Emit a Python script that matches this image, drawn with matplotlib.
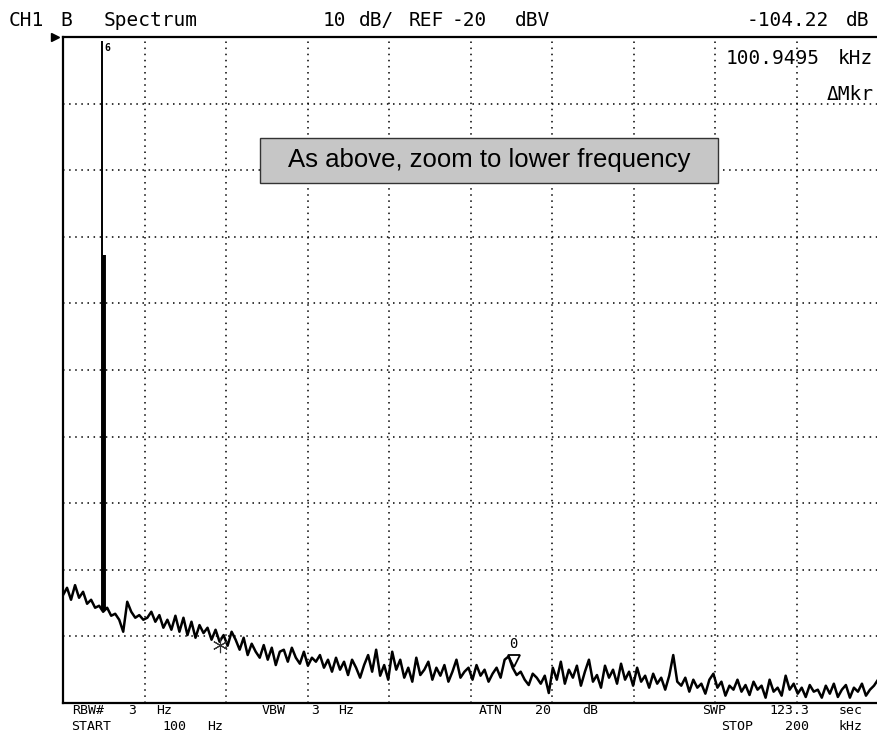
import numpy as np
import matplotlib
matplotlib.use("Agg")
import matplotlib.pyplot as plt
from matplotlib.patches import Rectangle
from matplotlib.transforms import blended_transform_factory

# analyser settings, as shown on screen
START_KHZ = 0.1
STOP_KHZ = 200.0
REF_DBV = -20.0
DB_PER_DIV = 10.0

# noise trace (dBV), bins evenly spaced START..STOP
trace_dbv = [
    -103.8, -102.7, -104.5, -102.3, -104.2, -103.3, -105.1, -104.5, -105.7, -105.4,
    -106.3, -105.7, -106.9, -106.6, -107.5, -109.3, -104.8, -106.3, -107.2, -106.8,
    -107.5, -107.2, -106.3, -107.8, -106.8, -108.7, -107.5, -109.0, -106.9, -109.3,
    -107.2, -109.8, -107.8, -110.2, -108.3, -109.5, -108.7, -110.5, -109.0, -110.8,
    -109.8, -111.4, -109.3, -110.5, -112.0, -110.2, -112.8, -111.1, -112.3, -113.2,
    -111.3, -113.5, -111.7, -114.3, -112.3, -112.0, -113.8, -111.7, -113.2, -114.1,
    -112.3, -114.4, -113.2, -113.8, -112.8, -114.7, -113.5, -115.3, -113.2, -115.0,
    -113.8, -115.8, -113.5, -114.7, -116.2, -114.3, -112.8, -115.3, -112.0, -115.9,
    -114.3, -116.5, -112.3, -115.0, -113.5, -116.2, -114.7, -116.8, -113.2, -115.8,
    -115.0, -113.8, -116.5, -114.7, -115.9, -114.3, -116.8, -115.3, -113.5, -116.2,
    -115.3, -114.7, -116.5, -114.3, -115.9, -115.0, -116.8, -115.6, -114.7, -116.2,
    -113.5, -113.0, -114.7, -115.8, -115.3, -116.5, -117.3, -115.6, -116.2, -117.1,
    -115.9, -118.5, -114.7, -116.5, -113.8, -117.1, -115.0, -116.2, -114.4, -117.4,
    -115.3, -113.5, -116.8, -115.8, -117.7, -114.4, -116.2, -115.0, -117.1, -114.1,
    -116.5, -115.3, -117.4, -114.7, -116.8, -115.9, -117.7, -115.6, -117.1, -116.2,
    -118.0, -115.9, -112.8, -116.8, -117.4, -116.2, -118.3, -116.5, -117.7, -117.1,
    -118.6, -116.5, -115.6, -117.7, -116.8, -118.9, -117.4, -118.0, -116.5, -118.3,
    -117.3, -118.8, -116.8, -118.0, -117.4, -119.2, -116.5, -118.3, -117.7, -118.9,
    -115.9, -118.0, -117.1, -118.6, -117.7, -119.1, -117.3, -118.3, -118.0, -119.2,
    -117.4, -118.6, -117.1, -119.1, -118.0, -117.3, -119.2, -117.7, -118.3, -117.1,
    -118.9, -118.0, -117.4, -116.5,
]

# the two tones near 10 kHz
peak_khz = [9.65, 10.1]
peak_dbv = [-20.6, -52.7]
peak_lw = [1.4, 2.8]
floor_dbv = -106.0

# markers
mkr_khz = 9.65 + 100.9495
mkr_dbv = -113.7
cross_khz = 38.6
cross_dbv = -111.3

W, H = 877, 744
fig = plt.figure(figsize=(W / 100, H / 100), dpi=100)
ax = fig.add_axes([63 / W, 41 / H, 815 / W, 666 / H])

ax.set_xlim(START_KHZ, STOP_KHZ)
ax.set_ylim(REF_DBV - 10 * DB_PER_DIV, REF_DBV)
ax.set_xticks(np.linspace(START_KHZ, STOP_KHZ, 11))
ax.set_yticks(np.arange(REF_DBV - 10 * DB_PER_DIV, REF_DBV + 1, DB_PER_DIV))
ax.tick_params(length=0, labelbottom=False, labelleft=False)
ax.grid(True, color='k', linestyle=(0, (1, 3)), linewidth=1.1)
ax.set_axisbelow(True)
for s in ['left', 'top', 'bottom']:
    ax.spines[s].set_linewidth(1.6)
ax.spines['right'].set_visible(False)

freqs = np.linspace(START_KHZ, STOP_KHZ, len(trace_dbv))
ax.plot(freqs, trace_dbv, color='k', lw=1.8)
for f, d, w in zip(peak_khz, peak_dbv, peak_lw):
    ax.vlines(f, floor_dbv, d, color='k', lw=w)

ax.text(peak_khz[0] + 0.6, peak_dbv[0] - 0.3, "6", family='DejaVu Sans Mono',
        weight='bold', size=7, ha='left', va='top')
ax.plot([mkr_khz], [mkr_dbv], marker='v', ms=9, mfc='none', mec='k', mew=1.3)
ax.text(mkr_khz, mkr_dbv + 2.6, "0", family='DejaVu Sans Mono', size=10,
        ha='center', va='center')
ax.plot([cross_khz], [cross_dbv], marker=(6, 2, 0), ms=11, color='#333333', mew=0.8)

# reference level pointer
tr = blended_transform_factory(ax.transAxes, ax.transData)
ax.plot([-0.01], [REF_DBV], marker='>', ms=6, color='k', transform=tr, clip_on=False)


def label(s, x, y, size):
    fig.text(x / W, 1 - y / H, s, ha='center', va='center',
             family='DejaVu Sans Mono', size=size)


for s, x in [("CH1", 26), ("B", 66), ("Spectrum", 151), ("10", 334), ("dB/", 376),
             ("REF", 426), ("-20", 469), ("dBV", 533), ("-104.22", 788), ("dB", 858)]:
    label(s, x, 20, 14)

label("100.9495", 773, 59, 14)
label("kHz", 855, 59, 14)
label("ΔMkr", 850, 95, 14)

for s, x in [("RBW#", 88), ("3", 132), ("Hz", 164), ("VBW", 274), ("3", 315),
             ("Hz", 346), ("ATN", 491), ("20", 543), ("dB", 590), ("SWP", 714),
             ("123.3", 789), ("sec", 851)]:
    label(s, x, 711, 9.5)
for s, x in [("START", 91), ("100", 174), ("Hz", 215), ("STOP", 737),
             ("200", 797), ("kHz", 851)]:
    label(s, x, 727, 9.5)

# caption box
fig.patches.append(Rectangle((260 / W, 1 - 183 / H), 458 / W, 45 / H,
                             transform=fig.transFigure, facecolor='#c6c6c6',
                             edgecolor='#333333', lw=1.0))
fig.text(489 / W, 1 - 160 / H, "As above, zoom to lower frequency",
         ha='center', va='center', family='Liberation Sans', size=18.5)

fig.savefig("out.png", dpi=100)
